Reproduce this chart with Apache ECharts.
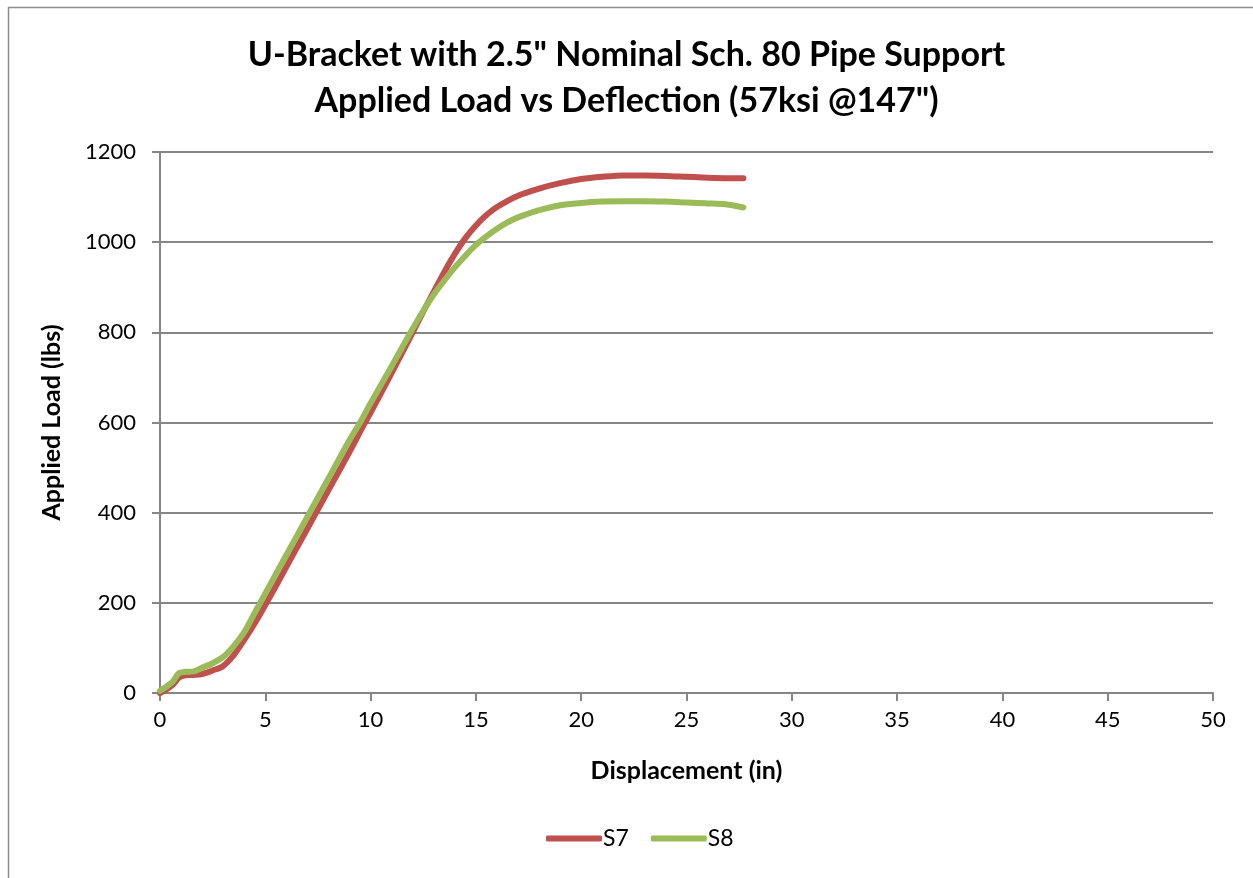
<!DOCTYPE html>
<html>
<head>
<meta charset="utf-8">
<title>U-Bracket Applied Load vs Deflection</title>
<script src="https://cdn.jsdelivr.net/npm/echarts@6/dist/echarts.min.js"></script>
<style>
  html, body { margin: 0; padding: 0; background: #fff; }
  #chart { width: 1253px; height: 878px; }
</style>
</head>
<body>
<div id="chart"></div>
<script>
// Displacement (in) and applied load (lbs) for each specimen
const s7Disp = [0, 0.3, 0.6, 0.9, 1.2, 1.6, 2.0, 2.5, 3.0, 3.5, 4.0, 4.5, 5.0, 6.0, 7.0, 8.0, 9.0, 9.7, 10.0, 11.0, 12.0, 12.5, 13.0, 13.5, 14.0, 14.5, 15.0, 15.5, 16.0, 17.0, 18.0, 19.0, 20.0, 21.0, 22.0, 23.0, 24.0, 25.0, 26.0, 27.0, 27.7];
const s7Load = [0, 8, 18, 34, 39, 40, 42, 50, 60, 84, 118, 155, 195, 280, 365, 450, 535, 597, 622, 710, 800, 846, 890, 934, 974, 1009, 1037, 1060, 1078, 1103, 1119, 1131, 1140, 1145, 1148, 1148, 1147, 1145, 1143, 1142, 1142];

const s8Disp = [0, 0.3, 0.6, 0.9, 1.2, 1.6, 2.0, 2.5, 3.0, 3.5, 4.0, 4.5, 5.0, 6.0, 7.0, 8.0, 9.0, 9.5, 10.0, 11.0, 11.9, 12.5, 13.0, 13.5, 14.0, 14.5, 15.0, 15.5, 16.0, 16.5, 17.0, 18.0, 19.0, 20.0, 21.0, 22.0, 23.0, 24.0, 25.0, 26.0, 27.0, 27.7];
const s8Load = [5, 14, 25, 44, 47, 48, 56, 66, 80, 104, 135, 178, 221, 306, 391, 476, 561, 600, 643, 725, 800, 848, 884, 915, 944, 970, 994, 1013, 1030, 1044, 1055, 1071, 1082, 1087, 1090, 1091, 1091, 1090, 1088, 1086, 1083, 1077];

const xTicks = [0, 5, 10, 15, 20, 25, 30, 35, 40, 45, 50];
const yTicks = [0, 200, 400, 600, 800, 1000, 1200];

const seriesNames = ['S7', 'S8'];
const seriesColors = ['#C0504D', '#9BBB59'];

const pairs = (xs, ys) => xs.map((x, i) => [x, ys[i]]);

const FONT = 'Lato, "Open Sans", "Noto Sans", sans-serif';
const AXIS_GREY = '#868686';

const chart = echarts.init(document.getElementById('chart'), null, { renderer: 'canvas' });

chart.setOption({
  animation: false,
  backgroundColor: '#ffffff',
  graphic: [{
    type: 'rect',
    shape: { x: 8.5, y: 7.5, width: 1260, height: 900 },
    style: { fill: 'none', stroke: '#8c8c8c', lineWidth: 1.5 },
    silent: true
  }],
  title: {
    text: 'U-Bracket with 2.5" Nominal Sch. 80 Pipe Support\nApplied Load vs Deflection (57ksi @147")',
    left: 'center',
    top: 27,
    textStyle: {
      fontFamily: FONT,
      fontWeight: 'bold',
      fontSize: 34,
      lineHeight: 46,
      color: '#000'
    }
  },
  legend: {
    data: seriesNames,
    bottom: 23,
    left: 541,
    itemWidth: 56,
    itemHeight: 6,
    itemGap: 22,
    icon: 'roundRect',
    textStyle: { fontFamily: FONT, fontSize: 23, color: '#000', padding: [0, 0, 0, -4] }
  },
  grid: { left: 160, right: 40, top: 152, bottom: 185, containLabel: false },
  xAxis: {
    type: 'value',
    min: xTicks[0],
    max: xTicks[xTicks.length - 1],
    interval: 5,
    name: 'Displacement (in)',
    nameLocation: 'middle',
    nameGap: 65,
    nameTextStyle: { fontFamily: FONT, fontWeight: 'bold', fontSize: 25, color: '#000' },
    axisLine: { show: true, lineStyle: { color: AXIS_GREY, width: 2 } },
    axisTick: { show: true, inside: false, length: 8, lineStyle: { color: AXIS_GREY, width: 2 } },
    axisLabel: { fontFamily: FONT, fontSize: 22, color: '#000', margin: 16 },
    splitLine: { show: false }
  },
  yAxis: {
    type: 'value',
    min: yTicks[0],
    max: yTicks[yTicks.length - 1],
    interval: 200,
    name: 'Applied Load (lbs)',
    nameLocation: 'middle',
    nameGap: 96,
    nameRotate: 90,
    nameTextStyle: { fontFamily: FONT, fontWeight: 'bold', fontSize: 25, color: '#000' },
    axisLine: { show: true, lineStyle: { color: AXIS_GREY, width: 2 } },
    axisTick: { show: true, inside: false, length: 8, lineStyle: { color: AXIS_GREY, width: 2 } },
    axisLabel: { fontFamily: FONT, fontSize: 22, color: '#000', margin: 24, formatter: v => String(v) },
    splitLine: { show: true, lineStyle: { color: AXIS_GREY, width: 2 } }
  },
  series: [
    {
      name: seriesNames[0],
      type: 'line',
      data: pairs(s7Disp, s7Load),
      smooth: 0.3,
      showSymbol: false,
      symbol: 'none',
      color: seriesColors[0],
      lineStyle: { width: 6, color: seriesColors[0], cap: 'round' },
      z: 2
    },
    {
      name: seriesNames[1],
      type: 'line',
      data: pairs(s8Disp, s8Load),
      smooth: 0.3,
      showSymbol: false,
      symbol: 'none',
      color: seriesColors[1],
      lineStyle: { width: 6, color: seriesColors[1], cap: 'round' },
      z: 3
    }
  ]
});
</script>
</body>
</html>
